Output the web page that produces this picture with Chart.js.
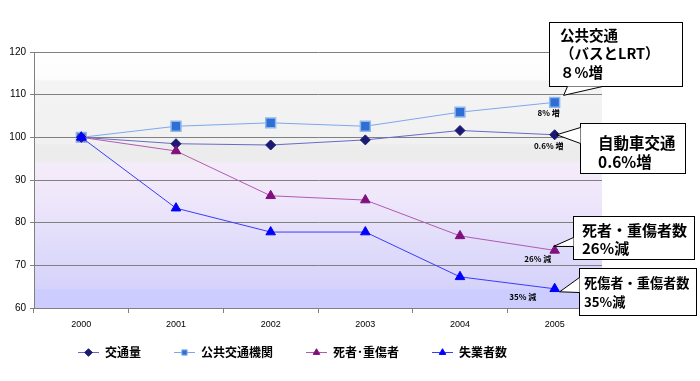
<!DOCTYPE html>
<html lang="ja">
<head>
<meta charset="utf-8">
<title>交通量・公共交通・死傷者の推移</title>
<script src="https://cdn.jsdelivr.net/npm/chart.js@4.4.1/dist/chart.umd.min.js"></script>
<style>
  html, body { margin: 0; padding: 0; background: #fff; }
  #wrap { width: 700px; height: 381px; position: relative; }
</style>
</head>
<body>
<div id="wrap"><canvas id="chart"></canvas></div>
<script>
// Index values, 2000 = 100
const years = ['2000', '2001', '2002', '2003', '2004', '2005'];
const seriesNames = ['交通量', '公共交通機関', '死者･重傷者', '失業者数'];
const traffic = [100, 98.5, 98.2, 99.4, 101.6, 100.6];
const publicTransport = [100, 102.6, 103.4, 102.6, 105.9, 108.2];
const casualties = [100, 96.8, 86.3, 85.3, 76.9, 73.5];
const unemployed = [100, 83.4, 77.8, 77.8, 67.3, 64.5];
const yTicks = [60, 70, 80, 90, 100, 110, 120];

// small labels next to the 2005 points
const endLabels = ['0.6% 増', '8% 増', '26% 減', '35% 減'];
// callout texts
const calloutTexts = [
  ['自動車交通', '0.6%増'],
  ['公共交通', '（バスとLRT）', '８%増'],
  ['死者・重傷者数', '26%減'],
  ['死傷者・重傷者数', '35%減']
];

const latin = '"Liberation Sans", Arial, sans-serif';
const jp = '"Noto Sans CJK JP", "Liberation Sans", sans-serif';

const datasets = [
  { label: seriesNames[0], data: traffic, borderColor: '#6a6ac6', pointStyle: 'rectRot', pointRadius: 5,
    pointBackgroundColor: '#1a1a72', pointBorderColor: '#1a1a72', order: 2 },
  { label: seriesNames[1], data: publicTransport, borderColor: '#7ea8ee', pointStyle: 'rect', pointRadius: 7,
    pointBackgroundColor: '#2f6fd4', pointBorderColor: '#8fb8ee', pointBorderWidth: 1.5, order: 3 },
  { label: seriesNames[2], data: casualties, borderColor: '#b25ab2', pointStyle: 'triangle', pointRadius: 5.5,
    pointBackgroundColor: '#80107e', pointBorderColor: '#80107e', order: 1 },
  { label: seriesNames[3], data: unemployed, borderColor: '#3b3bff', pointStyle: 'triangle', pointRadius: 5.5,
    pointBackgroundColor: '#0000ff', pointBorderColor: '#0000ff', order: 0 }
];
datasets.forEach(ds => {
  ds.borderWidth = 1;
  ds.tension = 0;
  ds.fill = false;
  if (!ds.pointBorderWidth) ds.pointBorderWidth = 1;
});

// legend icon: short line with marker, some empty room on the left for spacing
function legendIcon(ds) {
  const c = document.createElement('canvas');
  c.width = 46;
  c.height = 12;
  const g = c.getContext('2d');
  g.strokeStyle = ds.borderColor;
  g.lineWidth = 1;
  g.beginPath();
  g.moveTo(25, 6.5);
  g.lineTo(46, 6.5);
  g.stroke();
  g.fillStyle = ds.pointBackgroundColor;
  g.strokeStyle = ds.pointBorderColor;
  Chart.helpers.drawPoint(g, { pointStyle: ds.pointStyle, radius: 3.8, borderWidth: 1 }, 35.5, 6.5);
  return c;
}

const backgroundPlugin = {
  id: 'plotBackground',
  afterLayout(chart) {
    // the icons carry empty room on the left, pull the legend back a bit
    if (chart.legend) {
      chart.legend.left -= 21;
      chart.legend.right -= 21;
    }
  },
  beforeDraw(chart) {
    const { ctx, chartArea: a, scales: { y } } = chart;
    const h = a.bottom - a.top;
    const grad = ctx.createLinearGradient(0, a.top, 0, a.bottom);
    const stops = [
      [120, '#ffffff'], [113.6, '#fcfcfc'], [113.2, '#f4f4f4'], [98.6, '#f1f1f1'],
      [98.2, '#ececec'], [94.4, '#ececec'], [94, '#f5ecfa'], [85, '#eee6fa'],
      [75, '#e0dcfa'], [64.6, '#d6d3fb'], [64.3, '#ccccff'], [60, '#ccccff']
    ];
    stops.forEach(([v, col]) => {
      const t = Math.min(1, Math.max(0, (y.getPixelForValue(v) - a.top) / h));
      grad.addColorStop(t, col);
    });
    ctx.save();
    ctx.fillStyle = grad;
    ctx.fillRect(a.left, a.top, a.right - a.left, h);
    ctx.restore();
  }
};

// offsets from the last point for end labels
const endLabelOffsets = [[-6, 11], [-6, 11], [-17, 9], [-32, 8]];
// callout boxes: [x, y, w, h], tail base points, tip offset from the last point
const calloutBoxes = [
  { ds: 0, box: [580, 123, 105, 50], base: [[580, 127], [580, 143]], tip: [2, 0], size: 15.5, x: 598, y: 143, lh: 19 },
  { ds: 1, box: [549, 22, 133, 64], base: [[567, 86], [602, 86]], tip: [9, -7], size: 14.5, x: 560, y: 35, lh: 18.5 },
  { ds: 2, box: [573, 216, 121, 43], base: [[573, 237], [573, 246]], tip: [-1, -4], size: 15, x: 582, y: 230, lh: 18 },
  { ds: 3, box: [579, 268, 117, 47], base: [[579, 277], [579, 292]], tip: [5, 3], size: 13.2, x: 584, y: 283, lh: 19 }
];

const notesPlugin = {
  id: 'notes',
  afterDraw(chart) {
    const ctx = chart.ctx;
    ctx.save();
    // end labels
    ctx.font = 'bold 8px ' + jp;
    ctx.fillStyle = '#000';
    ctx.textAlign = 'center';
    ctx.textBaseline = 'middle';
    endLabels.forEach((txt, i) => {
      const pts = chart.getDatasetMeta(i).data;
      const p = pts[pts.length - 1];
      ctx.fillText(txt, p.x + endLabelOffsets[i][0], p.y + endLabelOffsets[i][1]);
    });
    // callouts
    calloutBoxes.forEach(cb => {
      const pts = chart.getDatasetMeta(cb.ds).data;
      const p = pts[pts.length - 1];
      const tip = [p.x + cb.tip[0], p.y + cb.tip[1]];
      const [bx, by, bw, bh] = cb.box;
      ctx.fillStyle = '#fff';
      ctx.strokeStyle = '#000';
      ctx.lineWidth = 1;
      ctx.fillRect(bx, by, bw, bh);
      ctx.strokeRect(bx + 0.5, by + 0.5, bw, bh);
      ctx.beginPath();
      ctx.moveTo(cb.base[0][0] + 0.5, cb.base[0][1] + 0.5);
      ctx.lineTo(tip[0], tip[1]);
      ctx.lineTo(cb.base[1][0] + 0.5, cb.base[1][1] + 0.5);
      ctx.closePath();
      ctx.fill();
      ctx.beginPath();
      ctx.moveTo(cb.base[0][0] + 0.5, cb.base[0][1] + 0.5);
      ctx.lineTo(tip[0], tip[1]);
      ctx.lineTo(cb.base[1][0] + 0.5, cb.base[1][1] + 0.5);
      ctx.stroke();
      ctx.fillStyle = '#000';
      ctx.textAlign = 'left';
      ctx.font = 'bold ' + cb.size + 'px ' + jp;
      calloutTexts[cb.ds].forEach((line, k) => {
        ctx.fillText(line, cb.x, cb.y + k * cb.lh);
      });
    });
    ctx.restore();
  }
};

new Chart(document.getElementById('chart'), {
  type: 'line',
  data: { labels: years, datasets: datasets },
  plugins: [backgroundPlugin, notesPlugin],
  options: {
    responsive: true,
    maintainAspectRatio: false,
    animation: false,
    layout: { padding: { top: 52, right: 98, bottom: 13, left: 0 } },
    scales: {
      x: {
        offset: true,
        grid: { offset: true, drawOnChartArea: false, tickLength: 5, color: '#808080' },
        border: { color: '#808080' },
        ticks: { color: '#000', font: { family: latin, size: 9 }, padding: 6, maxRotation: 0 },
        afterFit: s => { s.height = 30; }
      },
      y: {
        min: yTicks[0],
        max: yTicks[yTicks.length - 1],
        ticks: { stepSize: yTicks[1] - yTicks[0], color: '#000', font: { family: latin, size: 10 }, padding: 4 },
        grid: { color: '#808080', tickLength: 4 },
        border: { color: '#808080' },
        afterFit: s => { s.width = 34; }
      }
    },
    plugins: {
      tooltip: { enabled: false },
      legend: {
        position: 'bottom',
        labels: {
          usePointStyle: true,
          pointStyleWidth: 46,
          padding: 8,
          color: '#000',
          font: { family: jp, size: 12, weight: 'bold' },
          generateLabels: chart => chart.data.datasets.map((ds, i) => ({
            text: ds.label,
            pointStyle: legendIcon(ds),
            datasetIndex: i,
            hidden: false,
            lineWidth: 0,
            fillStyle: 'transparent',
            strokeStyle: 'transparent',
            fontColor: '#000'
          }))
        }
      }
    }
  }
});
</script>
</body>
</html>
